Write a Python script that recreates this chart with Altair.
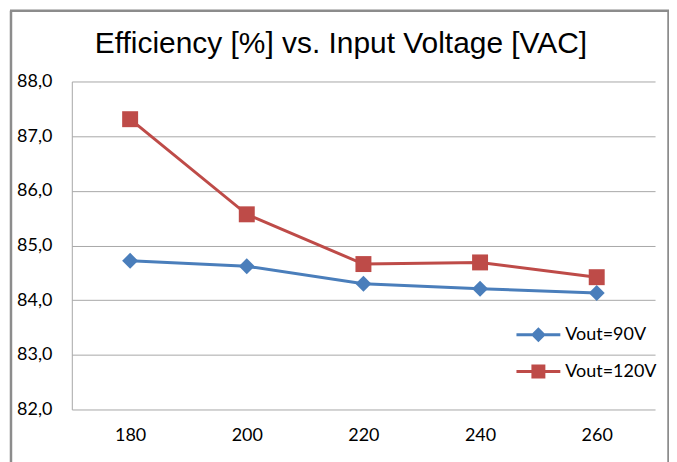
import altair as alt
import pandas as pd

# ---- data ----
voltages = ["180", "200", "220", "240", "260"]
series_names = ["Vout=90V", "Vout=120V"]
eff_90v = [84.72, 84.62, 84.30, 84.21, 84.13]
eff_120v = [87.31, 85.57, 84.66, 84.69, 84.42]
y_ticks = [82, 83, 84, 85, 86, 87, 88]
title_text = "Efficiency [%] vs. Input Voltage [VAC]"

series_colors = ["#4A7EBB", "#BE4B48"]

rows = []
for v, a, b in zip(voltages, eff_90v, eff_120v):
    rows.append({"voltage": v, "series": series_names[0], "eff": a})
    rows.append({"voltage": v, "series": series_names[1], "eff": b})
df = pd.DataFrame(rows)

W, H = 585, 329
LABEL_FONT = "Lato"

x_enc = alt.X(
    "voltage:O",
    sort=voltages,
    scale=alt.Scale(type="point", padding=0.5),
    axis=alt.Axis(
        title=None, labelAngle=0, ticks=False, tickSize=0, domain=False,
        labelFont=LABEL_FONT, labelFontSize=18, labelColor="#000000",
        labelPadding=17,
    ),
)
y_enc = alt.Y(
    "eff:Q",
    scale=alt.Scale(domain=[82, 88], nice=False, zero=False),
    axis=alt.Axis(
        title=None, values=y_ticks, ticks=False, tickSize=0,
        labelExpr="replace(format(datum.value, '.1f'), '.', ',')",
        labelFont=LABEL_FONT, labelFontSize=18, labelColor="#000000",
        labelPadding=20,
        grid=True, gridColor="#a8a8a8", gridWidth=1,
        domain=True, domainColor="#a8a8a8", domainWidth=1,
    ),
)

color_scale = alt.Scale(domain=series_names, range=series_colors)

base = alt.Chart(df)

lines = base.mark_line(strokeWidth=3).encode(
    x=x_enc, y=y_enc,
    color=alt.Color("series:N", scale=color_scale, legend=None),
)

points = base.mark_point(filled=True, opacity=1, size=256).encode(
    x=x_enc, y=y_enc,
    color=alt.Color("series:N", scale=color_scale, legend=None),
    shape=alt.Shape(
        "series:N",
        scale=alt.Scale(domain=series_names, range=["diamond", "square"]),
        legend=None,
    ),
)

path_diamond = "M-2.2,-0.15H2.2V0.15H-2.2Z M0,-0.75L0.75,0L0,0.75L-0.75,0Z"
path_square = "M-2.2,-0.15H2.2V0.15H-2.2Z M-0.7,-0.7H0.7V0.7H-0.7Z"

legend_props = dict(
    title=None, orient="none", legendX=458, legendY=244,
    symbolSize=400, symbolStrokeWidth=0, symbolOpacity=1,
    labelFont=LABEL_FONT, labelFontSize=18, labelColor="#000000",
    labelOffset=17, rowPadding=18, padding=0,
)

ghost = base.transform_filter("false").mark_point(filled=True, opacity=1).encode(
    x=x_enc, y=y_enc,
    color=alt.Color("series:N", scale=color_scale, legend=alt.Legend(**legend_props)),
    shape=alt.Shape(
        "series:N",
        scale=alt.Scale(domain=series_names, range=[path_diamond, path_square]),
        legend=alt.Legend(**legend_props),
    ),
)

one = alt.Data(values=[{"k": 1}])
frame_color = "#8c8c8c"
frame_left = alt.Chart(one).mark_rule(color=frame_color, strokeWidth=2.5).encode(
    x=alt.value(-61), y=alt.value(-71), y2=alt.value(400)
)
frame_right = alt.Chart(one).mark_rule(color=frame_color, strokeWidth=2.5).encode(
    x=alt.value(598.5), y=alt.value(-71), y2=alt.value(400)
)
frame_top = alt.Chart(one).mark_rule(color=frame_color, strokeWidth=2.5).encode(
    x=alt.value(-62), x2=alt.value(599.5), y=alt.value(-71)
)

title = alt.Chart(one).mark_text(
    font="Liberation Sans", fontSize=30, color="#000000",
    align="center", baseline="alphabetic",
).encode(text=alt.value(title_text), x=alt.value(270), y=alt.value(-29))

chart = alt.layer(
    lines, points, ghost, frame_left, frame_right, frame_top, title
).resolve_scale(
    color="independent", shape="independent"
).properties(
    width=W, height=H,
    autosize=alt.AutoSizeParams(type="none"),
    padding={"left": 64, "top": 73, "right": 14, "bottom": 60},
    background="#ffffff",
).configure_view(stroke=None)

chart.save("out.html", embed_options={"renderer": "svg", "actions": False})
